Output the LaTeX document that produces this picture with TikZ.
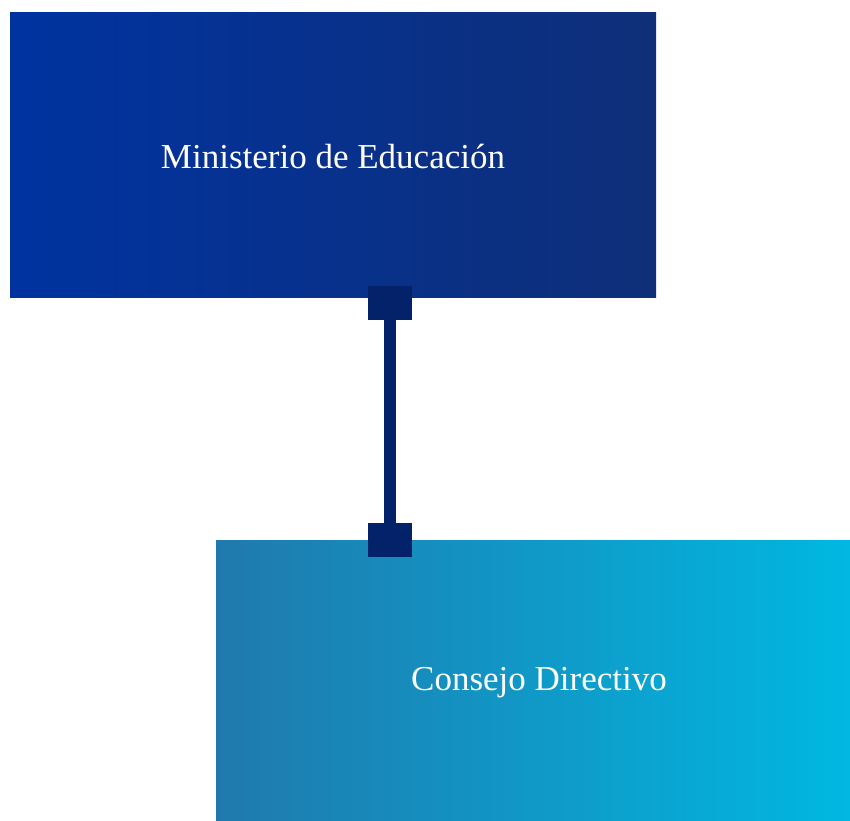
\documentclass[tikz,border=0pt]{standalone}
\usepackage{fontspec}
\setmainfont{Liberation Serif}
\definecolor{topL}{HTML}{0033A0}
\definecolor{topR}{HTML}{0F2F78}
\definecolor{botL}{HTML}{2079AD}
\definecolor{botR}{HTML}{00B8E1}
\definecolor{conn}{HTML}{03226A}
\begin{document}
\begin{tikzpicture}[x=1pt,y=-1pt,
  boxlabel/.style={text=white,font=\fontsize{35}{40}\selectfont},
  connsq/.style={fill=conn,draw=none,minimum width=44pt,minimum height=34pt,inner sep=0pt}]
\useasboundingbox (0,0) rectangle (850,820);
\shade[left color=topL,right color=topR] (10,12) rectangle (656,297);
\node[boxlabel] (min) at (333,156) {Ministerio de Educación};
\shade[left color=botL,right color=botR] (216,540) rectangle (850,820);
\node[boxlabel] (con) at (539,683) {Consejo Directivo};
\node[connsq] (sqa) at (390,303) {};
\node[connsq] (sqb) at (390,540) {};
\draw[conn,line width=12pt] (sqa.center) -- (sqb.center);
\end{tikzpicture}
\end{document}
